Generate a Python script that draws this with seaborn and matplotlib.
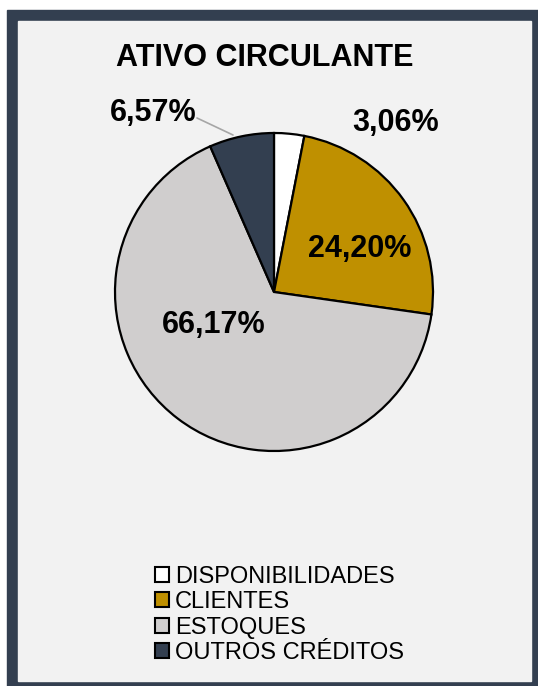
#!/usr/bin/env python3
"""Pie chart: composition of ATIVO CIRCULANTE."""

import matplotlib

matplotlib.use("Agg")
import matplotlib.pyplot as plt
import seaborn as sns
from matplotlib.patches import Patch, Rectangle

TITLE = "ATIVO CIRCULANTE"
CATEGORIES = ["DISPONIBILIDADES", "CLIENTES", "ESTOQUES", "OUTROS CRÉDITOS"]
SHARES = [3.06, 24.20, 66.17, 6.57]
COLORS = ["#ffffff", "#bf9000", "#d0cece", "#333f50"]

W, H, DPI = 538, 686, 100
CX, CY, R = 274, 292, 159  # pie centre and radius, px from top-left

# label centres (px from top-left), one per slice
LABEL_POS = [(396, 119), (360, 246), (214, 322), (153, 110)]
LEADER = [(197, 118), (233, 135)]

FRAME = "#333f50"
PANEL = "#f2f2f2"


def pct_label(v: float) -> str:
    return f"{v:.2f}%".replace(".", ",")


def main() -> None:
    sns.set_theme(style="white")
    plt.rcParams["font.family"] = ["Liberation Sans", "DejaVu Sans"]

    fig = plt.figure(figsize=(W / DPI, H / DPI), dpi=DPI)
    fig.patch.set_facecolor("white")
    ax = fig.add_axes([0, 0, 1, 1])

    # outer dark frame and inner light panel
    ax.add_patch(Rectangle((7, 0), W - 7, H - 10, color=FRAME, zorder=0))
    ax.add_patch(Rectangle((18, 5), 513, 660, color=PANEL, zorder=0))

    ax.pie(
        SHARES,
        colors=COLORS,
        startangle=90,
        counterclock=False,
        center=(CX, H - CY),
        radius=R,
        wedgeprops={"edgecolor": "black", "linewidth": 1.6},
        frame=True,
    )
    ax.set_xlim(0, W)
    ax.set_ylim(0, H)
    ax.set_aspect("equal")
    ax.axis("off")

    for v, (x, y) in zip(SHARES, LABEL_POS):
        ax.text(x, H - y, pct_label(v), ha="center", va="center_baseline",
                fontsize=22, fontweight="bold", color="black", zorder=5)

    (x0, y0), (x1, y1) = LEADER
    ax.plot([x0, x1], [H - y0, H - y1], color="#a6a6a6", lw=1.2, zorder=4)

    ax.text(265, H - 54, TITLE, ha="center", va="center_baseline",
            fontsize=22, fontweight="bold", color="black")

    handles = [Patch(facecolor=c, edgecolor="black", linewidth=1.5) for c in COLORS]
    leg = ax.legend(
        handles,
        CATEGORIES,
        loc="upper left",
        bbox_to_anchor=(155 / W, 1 - 566 / H),
        frameon=False,
        fontsize=17,
        handlelength=0.6,
        handleheight=0.6,
        handletextpad=0.25,
        labelspacing=0.14,
        borderaxespad=0,
        borderpad=0,
    )
    for t in leg.get_texts():
        t.set_color("black")

    fig.savefig("out.png", dpi=DPI, facecolor="white")
    plt.close(fig)


if __name__ == "__main__":
    main()
